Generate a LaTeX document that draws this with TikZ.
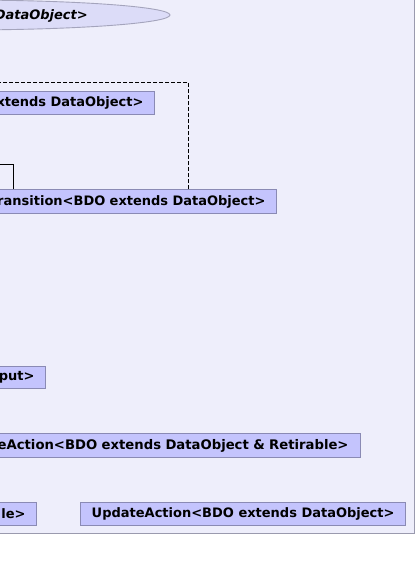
\documentclass[tikz,border=0pt]{standalone}
\usepackage{fontspec}
\setmainfont{DejaVu Sans}
\usetikzlibrary{shapes.geometric}
\definecolor{pkgbg}{HTML}{EEEEFB}
\definecolor{pkgline}{HTML}{9A9AAE}
\definecolor{boxfill}{HTML}{C4C4FD}
\definecolor{boxline}{HTML}{8A8AB4}
\definecolor{ucfill}{HTML}{DCDCF8}
\definecolor{ucline}{HTML}{A4A4BC}
\begin{document}
\begin{tikzpicture}[x=1pt,y=-1pt,
  classbox/.style={draw=boxline, fill=boxfill, line width=0.9pt, inner xsep=11pt, inner ysep=0pt,
    minimum height=23pt, font=\fontsize{13}{15}\selectfont\bfseries},
  cutbox/.style={classbox, anchor=east, text width=#1, align=right},
  usecase/.style={ellipse, draw=ucline, fill=ucfill, line width=0.9pt, inner sep=0pt},
  dep/.style={draw=black, line width=0.9pt, dash pattern=on 4pt off 2pt},
  assoc/.style={draw=black, line width=0.9pt}]
\useasboundingbox (0,0) rectangle (416,571);
\clip (0,0) rectangle (416,571);
\fill[white] (0,0) rectangle (416,571);
% package area
\draw[draw=pkgline, fill=pkgbg, line width=0.9pt] (-10,-10) rectangle (414.5,533);
% use case ellipse
\node[usecase, minimum width=420pt, minimum height=30pt] (uc) at (-40,15) {};
\node[anchor=east, inner sep=0pt, font=\fontsize{13}{15}\selectfont\bfseries\itshape] (uct) at (88,15.5) {DataObject>};
% class boxes
\node[cutbox=190pt] (dobj) at (155,102.5) {xtends DataObject>};
\node[cutbox=290pt, minimum height=24pt] (tr) at (277,201.5) {ransition<BDO extends DataObject>};
\node[cutbox=60pt, minimum height=22pt] (inp) at (46,377.5) {put>};
\node[cutbox=380pt, minimum height=24pt, inner xsep=12pt, font=\fontsize{13.2}{15}\selectfont\bfseries] (ret) at (361,445.5) {eAction<BDO extends DataObject \& Retirable>};
\node[cutbox=50pt] (rtb) at (37,514) {le>};
\node[classbox, anchor=east] (upd) at (406,514) {UpdateAction<BDO extends DataObject>};
% connectors
\coordinate (dturn) at (188,82);
\coordinate (dend) at (-5,82);
\coordinate (aturn) at (13,164);
\coordinate (aend) at (-5,164);
\draw[dep] (tr.north -| dturn) |- (dend);
\draw[assoc] (tr.north -| aturn) |- (aend);
\end{tikzpicture}
\end{document}
